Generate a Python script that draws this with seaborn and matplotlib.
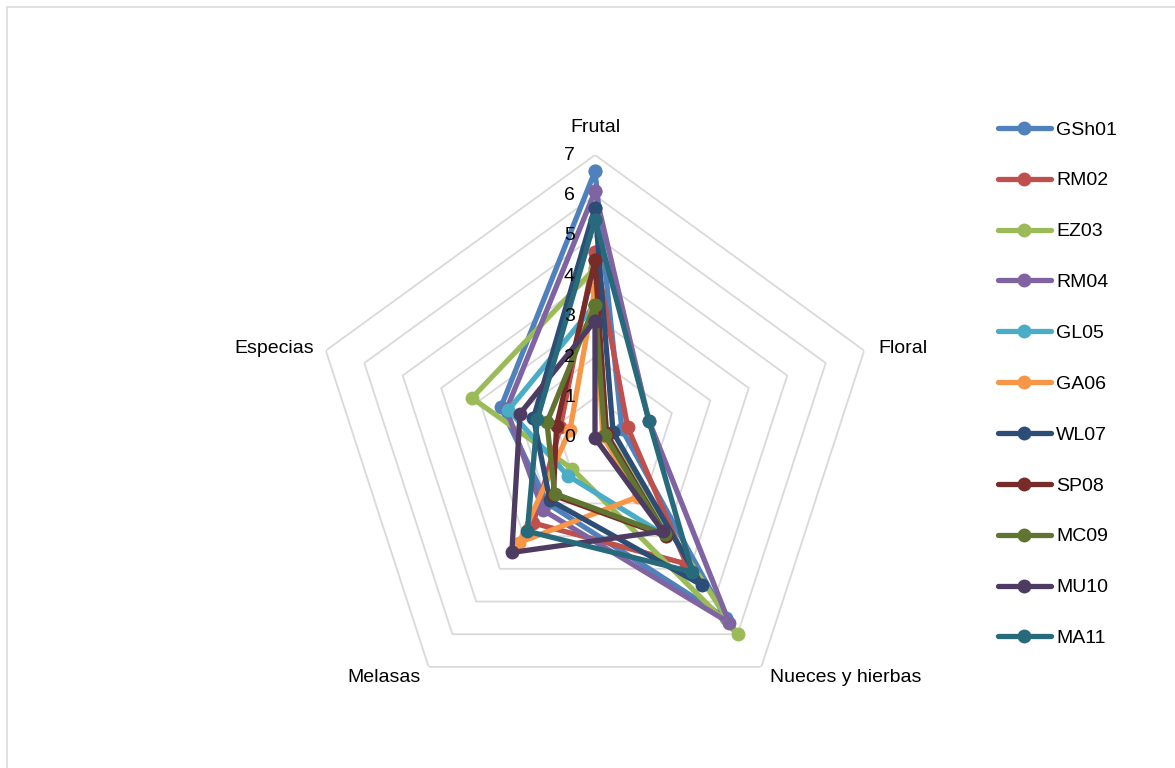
import numpy as np
import pandas as pd
import matplotlib
matplotlib.use("Agg")
import matplotlib.pyplot as plt
from matplotlib.lines import Line2D
from matplotlib.patches import Rectangle
import seaborn as sns

# Aroma profile axes (clockwise from the top) and radial scale
categories = ["Frutal", "Floral", "Nueces y hierbas", "Melasas", "Especias"]
scale_ticks = [0, 1, 2, 3, 4, 5, 6, 7]

# One list of scores per sample, in the order of `categories`
series_names = ["GSh01", "RM02", "EZ03", "RM04", "GL05", "GA06",
                "WL07", "SP08", "MC09", "MU10", "MA11"]
gsh01 = [6.6, 0.7, 5.5, 2.0, 2.45]
rm02 = [4.6, 0.85, 3.85, 2.6, 0.9]
ez03 = [4.2, 0.3, 6.0, 0.95, 3.2]
rm04 = [6.1, 1.4, 5.65, 2.2, 2.3]
gl05 = [3.3, 0.3, 3.0, 1.15, 2.25]
ga06 = [3.7, 0.2, 1.8, 3.2, 0.65]
wl07 = [5.7, 0.47, 4.5, 1.9, 1.6]
sp08 = [4.4, 0.3, 3.0, 1.75, 1.0]
mc09 = [3.3, 0.25, 2.95, 1.7, 1.25]
mu10 = [2.9, 0.0, 2.85, 3.5, 1.95]
ma11 = [5.4, 1.4, 4.1, 2.85, 1.5]

series_values = [gsh01, rm02, ez03, rm04, gl05, ga06, wl07, sp08, mc09, mu10, ma11]
colors = ["#4F81BD", "#C0504D", "#9BBB59", "#8064A2", "#4BACC6", "#F79646",
          "#2C4D75", "#772C2A", "#5F7530", "#4D3B62", "#276A7C"]

sns.set_theme(style="white")
plt.rcParams["font.family"] = ["Liberation Sans Narrow", "Liberation Sans", "DejaVu Sans"]
plt.rcParams["text.color"] = "#000000"

W, H = 1175, 768
fig = plt.figure(figsize=(W / 100, H / 100), dpi=100)

# Polar axes centred on the spider web, radius 7 -> 283 px
cx, cy, R = 595, 438, 283
ax = fig.add_axes([(cx - R) / W, (H - cy - R) / H, 2 * R / W, 2 * R / H],
                  projection="polar")
ax.set_theta_offset(np.pi / 2)
ax.set_theta_direction(-1)

n = len(categories)
angles = np.linspace(0, 2 * np.pi, n, endpoint=False)
angles_closed = np.append(angles, 2 * np.pi)

# Pentagonal grid rings
for k in scale_ticks[1:]:
    ax.plot(angles_closed, [k] * (n + 1), color="#D9D9D9", lw=1.3, zorder=0)

# Long-form table of closed polygons
rows = []
for name, vals in zip(series_names, series_values):
    closed = list(vals) + [vals[0]]
    for i, (th, v) in enumerate(zip(angles_closed, closed)):
        rows.append({"sample": name, "theta": th, "score": v, "step": i})
df = pd.DataFrame(rows)

lw, ms = 3.8, 10
sns.lineplot(data=df, x="theta", y="score", hue="sample", hue_order=series_names,
             palette=colors, units="sample", estimator=None, sort=False,
             marker="o", markersize=ms, markeredgewidth=0, lw=lw,
             legend=False, ax=ax)

ax.set_ylim(0, 7)
ax.grid(False)
ax.set_xticks([])
ax.set_yticks([])
ax.spines["polar"].set_visible(False)
ax.set_xlabel("")
ax.set_ylabel("")
ax.patch.set_alpha(0)

fs = 14
# Radial scale labels along the Frutal axis
for k in scale_ticks:
    ax.annotate(str(k), xy=(0, k), xytext=(-20, 0), textcoords="offset pixels",
                ha="right", va="center", fontsize=fs, color="#000000", zorder=10)

# Category labels around the outer ring
label_offsets = [((0, 27), "center"), ((14, 2), "left"), ((9, -11), "left"),
                 ((-8, -11), "right"), ((-12, 2), "right")]
for th, cat, (off, ha) in zip(angles, categories, label_offsets):
    ax.annotate(cat, xy=(th, 7), xytext=off, textcoords="offset pixels",
                ha=ha, va="center", fontsize=fs, color="#000000",
                annotation_clip=False)

# Legend on the right
handles = [Line2D([0], [0], color=c, lw=lw, marker="o", markersize=ms,
                  markeredgewidth=0) for c in colors]
fig.legend(handles, series_names, loc="upper left",
           bbox_to_anchor=(998 / W, 1 - 121 / H), frameon=False,
           fontsize=fs, handlelength=2.7, handletextpad=0.3,
           labelspacing=1.71, borderpad=0, borderaxespad=0,
           labelcolor="#000000")

# Light chart-area frame
fig.patches.append(Rectangle((6.5 / W, -0.05), 1.2, (H - 7.5) / H + 0.05,
                             transform=fig.transFigure, fill=False,
                             edgecolor="#D9D9D9", lw=1.1, clip_on=False))

fig.savefig("out.png", dpi=100)
